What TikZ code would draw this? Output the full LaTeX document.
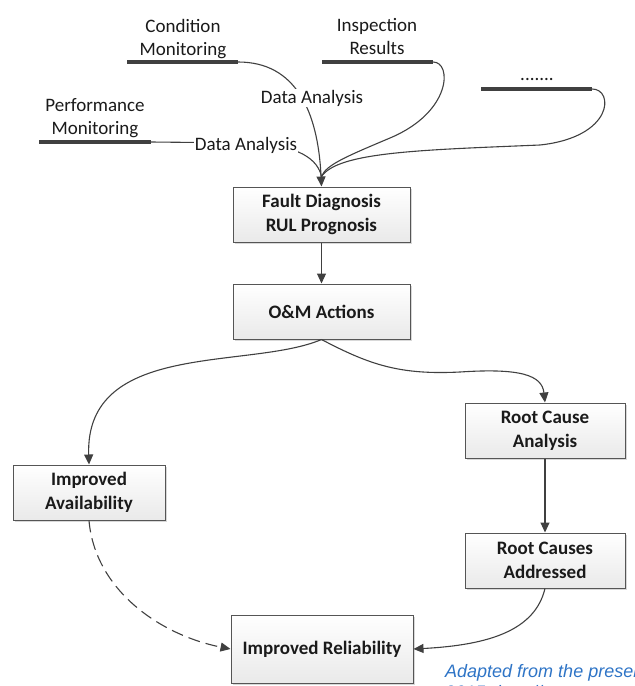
\documentclass[tikz,border=0pt]{standalone}
\usepackage{fontspec}
\setmainfont{Carlito}
\newfontfamily\capfont{Liberation Sans}
\usetikzlibrary{arrows.meta,shadows,calc}

\definecolor{linegray}{HTML}{404040}
\definecolor{boxedge}{HTML}{555555}
\definecolor{capblue}{HTML}{2E74C6}
\definecolor{inktext}{HTML}{1A1A1A}

\begin{document}
\begin{tikzpicture}[x=1pt,y=-1pt,
  box/.style={draw=boxedge, line width=1pt, top color=white, bottom color=gray!17,
    drop shadow={shadow xshift=1.5pt, shadow yshift=-1.5pt, fill=gray!60, opacity=0.5},
    font=\fontsize{19}{24}\selectfont\bfseries, text=inktext, align=center, inner sep=0pt},
  src/.style={font=\fontsize{19}{23}\selectfont, text=inktext, align=center, inner sep=0pt},
  bar/.style={fill=linegray, inner sep=0pt, minimum height=4pt},
  lbl/.style={fill=white, font=\fontsize{19}{23}\selectfont, text=inktext, inner sep=1pt},
  conn/.style={draw=linegray, line width=1.1pt},
  arr/.style={conn, -{Triangle[length=10pt,width=9pt]}},
  dashconn/.style={arr, dash pattern=on 12pt off 6pt},
  note/.style={anchor=base west, inner sep=0pt, font=\capfont\itshape\fontsize{18}{21}\selectfont, text=capblue},
]
\useasboundingbox (0,0) rectangle (635,686);
\clip (0,0) rectangle (635,686);

% data sources with their underline bars
\node[src] (cm) at (183,39) {Condition\\Monitoring};
\node[bar, minimum width=111pt] (cmbar) at (182.5,62) {};
\node[src] (ir) at (377,36) {Inspection\\Results};
\node[bar, minimum width=111pt] (irbar) at (377.5,62) {};
\node[src] (more) at (537,79) {.......};
\node[bar, minimum width=111pt] (morebar) at (536.5,89) {};
\node[src] (pm) at (95,118) {Performance\\Monitoring};
\node[bar, minimum width=112pt] (pmbar) at (95,142) {};

% process boxes
\node[box, minimum width=177pt, minimum height=55pt] (fault) at (321.5,214.5) {Fault Diagnosis\\RUL Prognosis};
\node[box, minimum width=177pt, minimum height=55pt] (om) at (321.5,311.5) {O\&M Actions};
\node[box, minimum width=152pt, minimum height=55pt] (avail) at (89,492.5) {Improved\\Availability};
\node[box, minimum width=160pt, minimum height=55pt] (rca) at (545,430.5) {Root Cause\\Analysis};
\node[box, minimum width=160pt, minimum height=55pt] (rcad) at (545,560.5) {Root Causes\\Addressed};
\node[box, minimum width=182pt, minimum height=68pt] (rel) at (322,649) {Improved Reliability};

% the inputs merge just above the arrowhead on the diagnosis box
\coordinate (merge) at ($(fault.north)+(0,-10)$);

\draw[arr] (cmbar.east) .. controls (295,62) and (318,110) .. (fault.north);
\draw[conn] (pmbar.east) -- (250,143) .. controls (300,145) and (318,160) .. (merge);
\draw[conn] (irbar.east) .. controls (452,62) and (452,112) .. (390,138)
  .. controls (345,157) and (326,165) .. (merge);
\draw[conn] (morebar.east) .. controls (614,89) and (614,137) .. (540,145)
  .. controls (420,150) and (338,152) .. (merge);

\node[lbl] (da1) at (312,98) {Data Analysis};
\node[lbl] (da2) at (246,145) {Data Analysis};

% flow through the actions
\draw[arr] (fault) -- (om);
\draw[arr] (om.south) .. controls (250,370) and (85,340) .. (avail.north);
\draw[arr] (om.south) .. controls (370,365) and (400,375) .. (460,372)
  .. controls (520,368) and (542,375) .. (rca.north);
\draw[arr] (rca) -- (rcad);
\draw[dashconn] (avail.south) .. controls (95,590) and (160,635) .. (rel.west);
\draw[arr] (rcad.south) .. controls (535,630) and (490,645) .. (rel.east);

% source note, running past the right and bottom edges
\node[note] (note1) at (445,677) {Adapted from the presentation};
\node[note] (note2) at (445,698) {2015. http://www};
\end{tikzpicture}
\end{document}
